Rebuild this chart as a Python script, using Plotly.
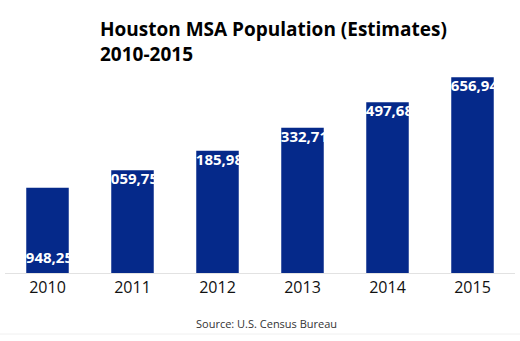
import plotly.graph_objects as go

years = ["2010", "2011", "2012", "2013", "2014", "2015"]
population = [5948257, 6059758, 6185980, 6332719, 6497686, 6656947]
labels = [f"{v:,}" for v in population]

Y_MIN, Y_MAX = 5400000, 6736400
BAR_COLOR = "#05298a"
FONT = "Open Sans"
PLOT_H = 208  # plot-area height in px (341 - top 65 - bottom 68)

fig = go.Figure(go.Bar(
    x=years, y=population,
    marker=dict(color=BAR_COLOR, line=dict(width=0)),
    hoverinfo="x+y", showlegend=False,
))

# value labels in white: first year at the bar's base, the rest at the top
value_labels = []
for i, (v, lab) in enumerate(zip(population, labels)):
    at_base = i == 0
    value_labels.append(dict(
        x=i, y=Y_MIN if at_base else v, xref="x", yref="y",
        text=f"<b>{lab}</b>", showarrow=False,
        yanchor="bottom" if at_base else "top",
        yshift=4,
        font=dict(family=FONT, size=15, color="white"),
    ))

fig.update_layout(
    width=520, height=341,
    margin=dict(l=5, r=5, t=65, b=68, autoexpand=False),
    paper_bgcolor="white", plot_bgcolor="white",
    bargap=0.5,
    font=dict(family=FONT, color="#222222"),
    xaxis=dict(
        type="category", categoryorder="array", categoryarray=years,
        range=[-0.5, len(years) - 0.5],
        showline=True, linecolor="#e2e2e2", linewidth=1,
        ticks="", tickfont=dict(family=FONT, size=16, color="#111111"),
        showgrid=False, fixedrange=True,
    ),
    yaxis=dict(
        range=[Y_MIN, Y_MAX], visible=False, showgrid=False,
        zeroline=False, fixedrange=True,
    ),
    annotations=value_labels + [
        dict(
            text="<b>Houston MSA Population (Estimates)<br>2010-2015</b>",
            xref="paper", x=(98 - 5) / 510, xanchor="left", align="left",
            yref="paper", y=(273 - 14) / PLOT_H, yanchor="top",
            showarrow=False,
            font=dict(family=FONT, size=19, color="#000000"),
        ),
        dict(
            text="Source: U.S. Census Bureau",
            xref="paper", x=(266 - 5) / 510, xanchor="center",
            yref="paper", y=-50 / PLOT_H, yanchor="middle",
            showarrow=False,
            font=dict(family=FONT, size=11, color="#333333"),
        ),
    ],
    shapes=[dict(
        type="line", xref="paper", yref="paper",
        x0=-5 / 510, x1=515 / 510, y0=-61 / PLOT_H, y1=-61 / PLOT_H,
        line=dict(color="#f0f0f0", width=1),
    )],
)

fig.write_html("out.html")
